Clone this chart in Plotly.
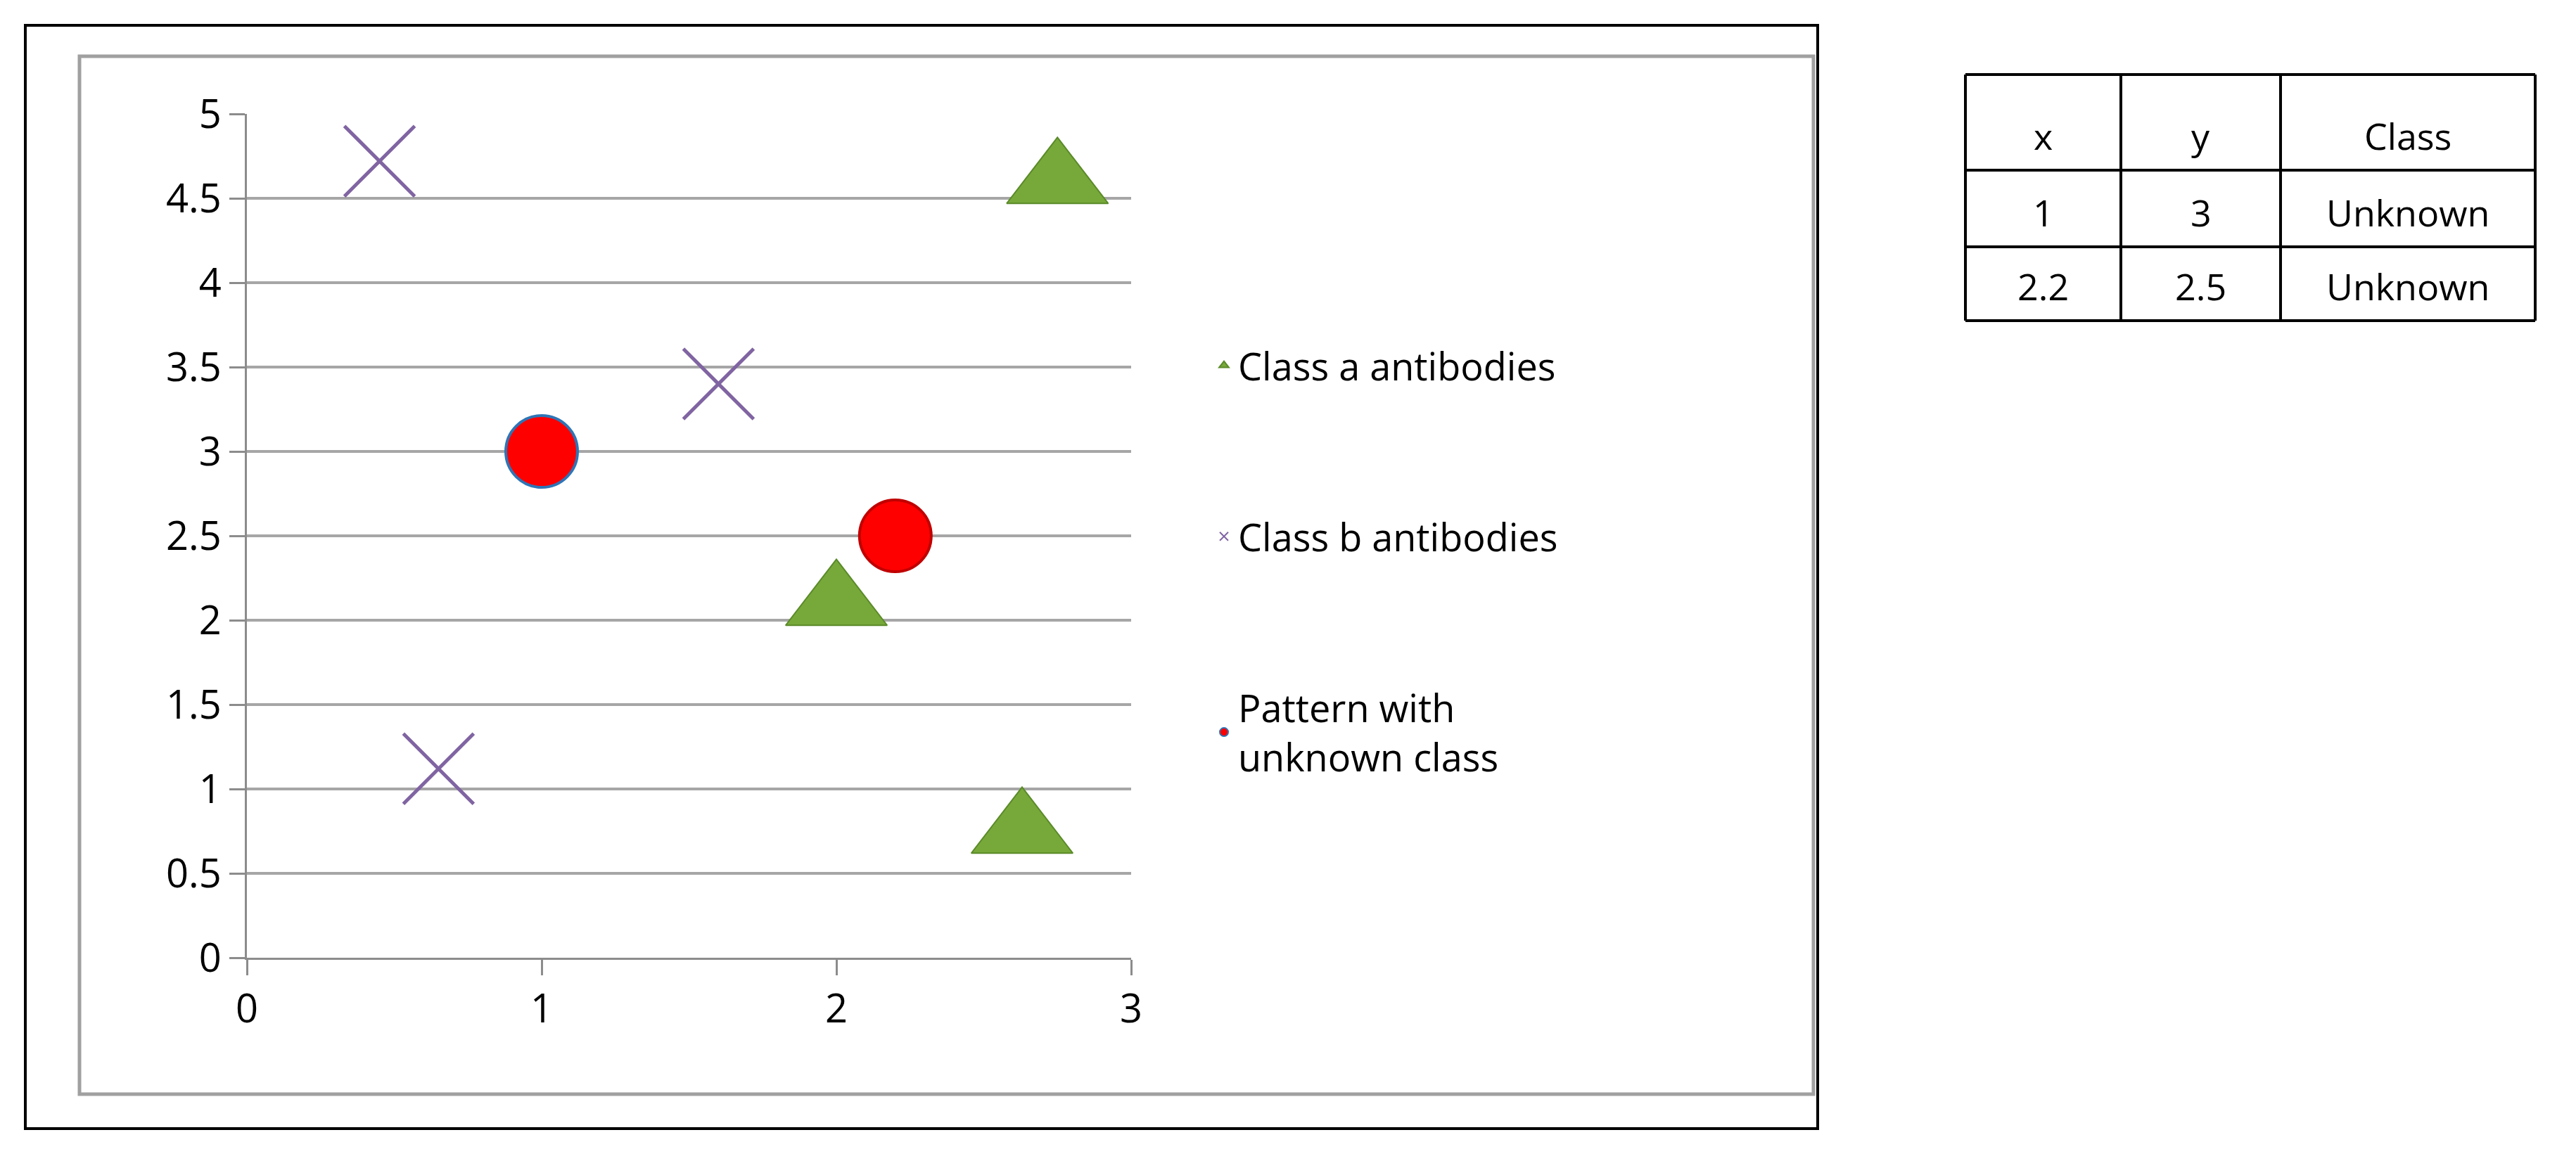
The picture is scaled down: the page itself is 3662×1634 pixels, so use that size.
import plotly.graph_objects as go

W, H = 3662, 1634
L, R, T, B = 343, 1600, 154, 1354

a_x = [2.75, 2.0, 2.63]
a_y = [4.6, 2.1, 0.75]
b_x = [0.45, 1.6, 0.65]
b_y = [4.72, 3.4, 1.12]
u_x = [1.0, 2.2]
u_y = [3.0, 2.5]
u_line = ["#2e75b6", "#c00000"]

tbl_header = ["x", "y", "Class"]
tbl_rows = [["1", "3", "Unknown"], ["2.2", "2.5", "Unknown"]]

def px(x):
    return (x - L) / (R - L)

def py(y):
    return (B - y) / (B - T)

FONT = "Open Sans"
fig = go.Figure()
fig.add_trace(go.Scatter(x=a_x, y=a_y, mode="markers", name="Class a antibodies", legendgroup="a",
    marker=dict(symbol="triangle-up", size=125, color="#77a83a", line=dict(color="#5a8a28", width=2))))
fig.add_trace(go.Scatter(x=b_x, y=b_y, mode="markers", name="Class b antibodies", legendgroup="b",
    marker=dict(symbol="x-thin", size=100, color="#8064a2", line=dict(color="#8064a2", width=5))))
fig.add_trace(go.Scatter(x=u_x, y=u_y, mode="markers", name="Pattern with<br>unknown class", legendgroup="c",
    marker=dict(symbol="circle", size=102, color="#ff0000", line=dict(color=u_line, width=4))))

shapes = []
shapes.append(dict(type="rect", xref="paper", yref="paper", x0=px(28), x1=px(2576), y0=py(1597), y1=py(28),
                   line=dict(color="black", width=4)))
shapes.append(dict(type="rect", xref="paper", yref="paper", x0=px(105), x1=px(2570), y0=py(1548), y1=py(72),
                   line=dict(color="#a0a0a0", width=5)))
cols = [2786, 3007, 3234, 3596]
rows = [98, 234, 343, 448]
for c in cols:
    shapes.append(dict(type="line", xref="paper", yref="paper", x0=px(c), x1=px(c), y0=py(rows[0]), y1=py(rows[-1]),
                       line=dict(color="black", width=4)))
for r in rows:
    shapes.append(dict(type="line", xref="paper", yref="paper", x0=px(cols[0]), x1=px(cols[-1]), y0=py(r), y1=py(r),
                       line=dict(color="black", width=4)))
ann = []
cells = [tbl_header] + tbl_rows
for i, row in enumerate(cells):
    yc = rows[i + 1] - 12
    for j, txt in enumerate(row):
        xc = (cols[j] + cols[j + 1]) / 2
        ann.append(dict(xref="paper", yref="paper", x=px(xc), y=py(yc), text=txt, showarrow=False,
                        xanchor="center", yanchor="bottom", font=dict(family=FONT, size=52, color="black")))

fig.update_layout(
    width=W, height=H, margin=dict(l=L, r=W - R, t=T, b=H - B, autoexpand=False),
    paper_bgcolor="white", plot_bgcolor="white",
    shapes=shapes, annotations=ann,
    font=dict(family=FONT, color="black"),
    legend=dict(x=px(1712), y=py(470), xanchor="left", yanchor="top", font=dict(size=54),
                tracegroupgap=170, itemsizing="constant", bgcolor="rgba(0,0,0,0)"),
    xaxis=dict(range=[0, 3], tickvals=[0, 1, 2, 3], showgrid=False, zeroline=False, showline=True,
               linecolor="#8c8c8c", linewidth=3, ticks="outside", ticklen=22, tickwidth=3, tickcolor="#8c8c8c",
               tickfont=dict(size=56)),
    yaxis=dict(range=[0, 5], dtick=0.5, showgrid=True, gridcolor="#a6a6a6", gridwidth=4, zeroline=False,
               showline=True, linecolor="#8c8c8c", linewidth=3, ticks="outside", ticklen=22, tickwidth=3,
               tickcolor="#8c8c8c", tickfont=dict(size=56)),
)
fig.write_html("out.html")
